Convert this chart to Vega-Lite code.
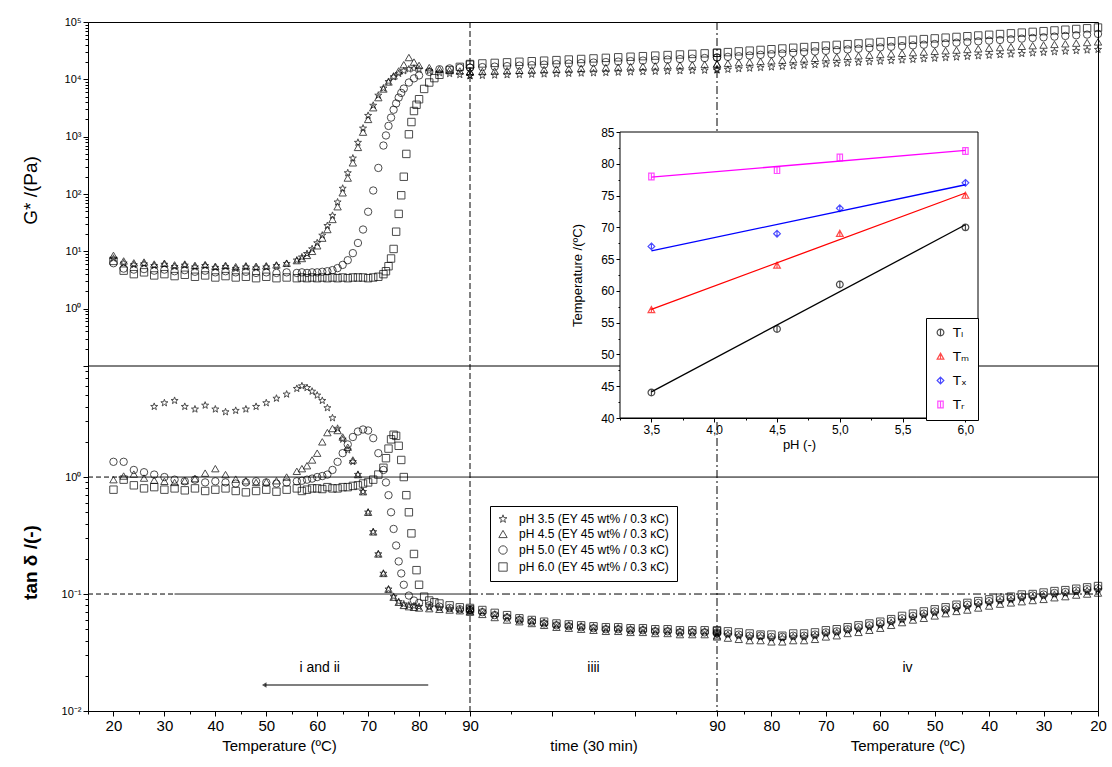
{
"$schema": "https://vega.github.io/schema/vega-lite/v6.json",
"width": 1010,
"height": 689,
"autosize": {"type": "none"},
"padding": {"left": 88, "top": 22, "right": 14, "bottom": 56},
"background": "white",
"config": {
  "view": {"stroke": "black", "strokeWidth": 1},
  "axis": {"grid": false, "domainColor": "black", "tickColor": "black", "labelColor": "black", "titleColor": "black", "labelFont": "Liberation Sans Narrow, Liberation Sans, Arial", "titleFont": "Liberation Sans Narrow, Liberation Sans, Arial", "labelOverlap": false, "labelFlush": false, "labelBound": false, "titleFontWeight": "normal", "domainWidth": 1, "tickWidth": 1}
},
"datasets": {
  "heat": [
    {"p":3.5,"x":20,"g":7.5},{"p":3.5,"x":22,"g":6.2},{"p":3.5,"x":24,"g":5.8},{"p":3.5,"x":26,"g":6.0},
    {"p":3.5,"x":28,"g":5.6,"d":4.0},{"p":3.5,"x":30,"g":5.9,"d":4.3},{"p":3.5,"x":32,"g":5.4,"d":4.5},{"p":3.5,"x":34,"g":5.7,"d":4.0},
    {"p":3.5,"x":36,"g":5.3,"d":3.8},{"p":3.5,"x":38,"g":5.6,"d":4.1},{"p":3.5,"x":40,"g":5.2,"d":3.8},{"p":3.5,"x":42,"g":5.4,"d":3.6},
    {"p":3.5,"x":44,"g":5.0,"d":3.7},{"p":3.5,"x":46,"g":5.3,"d":3.8},{"p":3.5,"x":48,"g":5.1,"d":4.0},{"p":3.5,"x":50,"g":5.3,"d":4.3},
    {"p":3.5,"x":52,"g":5.6,"d":4.7},{"p":3.5,"x":54,"g":6.1,"d":5.1},{"p":3.5,"x":56,"g":7.0,"d":5.7},{"p":3.5,"x":57,"g":7.9,"d":6.0},
    {"p":3.5,"x":58,"g":9.1,"d":5.8},{"p":3.5,"x":59,"g":11,"d":5.4},{"p":3.5,"x":60,"g":14,"d":5.0},{"p":3.5,"x":61,"g":19,"d":4.5},
    {"p":3.5,"x":62,"g":28,"d":3.9},{"p":3.5,"x":63,"g":42,"d":3.2},{"p":3.5,"x":64,"g":72,"d":2.6},{"p":3.5,"x":65,"g":125,"d":2.1},
    {"p":3.5,"x":66,"g":233,"d":1.7},{"p":3.5,"x":67,"g":420,"d":1.35},{"p":3.5,"x":68,"g":790,"d":1.05},{"p":3.5,"x":69,"g":1400,"d":0.75},
    {"p":3.5,"x":70,"g":2330,"d":0.5},{"p":3.5,"x":71,"g":3500,"d":0.34},{"p":3.5,"x":72,"g":5250,"d":0.22},{"p":3.5,"x":73,"g":7000,"d":0.15},
    {"p":3.5,"x":74,"g":9100,"d":0.11},{"p":3.5,"x":75,"g":11000,"d":0.095},{"p":3.5,"x":76,"g":12600,"d":0.086},{"p":3.5,"x":77,"g":14000,"d":0.082},
    {"p":3.5,"x":78,"g":15000,"d":0.08},{"p":3.5,"x":79,"g":15500,"d":0.079},{"p":3.5,"x":80,"g":15000,"d":0.078},{"p":3.5,"x":82,"g":14000,"d":0.077},
    {"p":3.5,"x":84,"g":13000,"d":0.076},{"p":3.5,"x":86,"g":12500,"d":0.075},{"p":3.5,"x":88,"g":12000,"d":0.074},{"p":3.5,"x":90,"g":11500,"d":0.073},

    {"p":4.5,"x":20,"g":8.5,"d":0.95},{"p":4.5,"x":22,"g":6.8,"d":1.02},{"p":4.5,"x":24,"g":6.3,"d":1.06},{"p":4.5,"x":26,"g":6.5,"d":0.98},
    {"p":4.5,"x":28,"g":6.0,"d":0.94},{"p":4.5,"x":30,"g":6.2,"d":0.92},{"p":4.5,"x":32,"g":5.8,"d":0.9},{"p":4.5,"x":34,"g":6.0,"d":0.93},
    {"p":4.5,"x":36,"g":5.7,"d":0.97},{"p":4.5,"x":38,"g":5.9,"d":1.08},{"p":4.5,"x":40,"g":5.5,"d":1.18},{"p":4.5,"x":42,"g":5.7,"d":1.05},
    {"p":4.5,"x":44,"g":5.4,"d":0.96},{"p":4.5,"x":46,"g":5.6,"d":0.93},{"p":4.5,"x":48,"g":5.5,"d":0.9},{"p":4.5,"x":50,"g":5.6,"d":0.91},
    {"p":4.5,"x":52,"g":5.8,"d":0.93},{"p":4.5,"x":54,"g":6.2,"d":1.0},{"p":4.5,"x":56,"g":6.9,"d":1.12},{"p":4.5,"x":57,"g":7.5,"d":1.18},
    {"p":4.5,"x":58,"g":8.5,"d":1.25},{"p":4.5,"x":59,"g":10,"d":1.4},{"p":4.5,"x":60,"g":12.5,"d":1.6},{"p":4.5,"x":61,"g":17,"d":2.0},
    {"p":4.5,"x":62,"g":24,"d":2.4},{"p":4.5,"x":63,"g":36,"d":2.6},{"p":4.5,"x":64,"g":60,"d":2.5},{"p":4.5,"x":65,"g":105,"d":2.2},
    {"p":4.5,"x":66,"g":190,"d":1.8},{"p":4.5,"x":67,"g":350,"d":1.4},{"p":4.5,"x":68,"g":650,"d":1.05},{"p":4.5,"x":69,"g":1200,"d":0.75},
    {"p":4.5,"x":70,"g":2000,"d":0.5},{"p":4.5,"x":71,"g":3200,"d":0.34},{"p":4.5,"x":72,"g":4800,"d":0.22},{"p":4.5,"x":73,"g":6800,"d":0.15},
    {"p":4.5,"x":74,"g":9000,"d":0.11},{"p":4.5,"x":75,"g":11500,"d":0.094},{"p":4.5,"x":76,"g":14000,"d":0.085},{"p":4.5,"x":77,"g":18000,"d":0.08},
    {"p":4.5,"x":78,"g":24000,"d":0.078},{"p":4.5,"x":79,"g":20000,"d":0.077},{"p":4.5,"x":80,"g":17500,"d":0.076},{"p":4.5,"x":82,"g":16000,"d":0.075},
    {"p":4.5,"x":84,"g":15000,"d":0.074},{"p":4.5,"x":86,"g":14500,"d":0.073},{"p":4.5,"x":88,"g":14000,"d":0.072},{"p":4.5,"x":90,"g":13500,"d":0.071},

    {"p":5,"x":20,"g":6.2,"d":1.35},{"p":5,"x":22,"g":5.0,"d":1.35},{"p":5,"x":24,"g":4.8,"d":1.15},{"p":5,"x":26,"g":4.9,"d":1.1},
    {"p":5,"x":28,"g":4.6,"d":1.05},{"p":5,"x":30,"g":4.8,"d":1.0},{"p":5,"x":32,"g":4.5,"d":0.95},{"p":5,"x":34,"g":4.7,"d":0.92},
    {"p":5,"x":36,"g":4.4,"d":0.95},{"p":5,"x":38,"g":4.6,"d":0.9},{"p":5,"x":40,"g":4.3,"d":0.92},{"p":5,"x":42,"g":4.5,"d":0.9},
    {"p":5,"x":44,"g":4.3,"d":0.88},{"p":5,"x":46,"g":4.4,"d":0.9},{"p":5,"x":48,"g":4.2,"d":0.92},{"p":5,"x":50,"g":4.3,"d":0.9},
    {"p":5,"x":52,"g":4.2,"d":0.88},{"p":5,"x":54,"g":4.3,"d":0.9},{"p":5,"x":56,"g":4.2,"d":0.92},{"p":5,"x":57,"g":4.3,"d":0.93},
    {"p":5,"x":58,"g":4.2,"d":0.95},{"p":5,"x":59,"g":4.3,"d":0.97},{"p":5,"x":60,"g":4.3,"d":1.0},{"p":5,"x":61,"g":4.4,"d":1.02},
    {"p":5,"x":62,"g":4.5,"d":1.05},{"p":5,"x":63,"g":4.7,"d":1.15},{"p":5,"x":64,"g":5.1,"d":1.35},{"p":5,"x":65,"g":5.8,"d":1.6},
    {"p":5,"x":66,"g":7.0,"d":1.9},{"p":5,"x":67,"g":9.3,"d":2.2},{"p":5,"x":68,"g":14,"d":2.45},{"p":5,"x":69,"g":24,"d":2.55},
    {"p":5,"x":70,"g":49,"d":2.5},{"p":5,"x":71,"g":115,"d":2.15},{"p":5,"x":72,"g":285,"d":1.6},{"p":5,"x":73,"g":700,"d":1.15},
    {"p":5,"x":73.5,"g":1050,"d":0.9},{"p":5,"x":74,"g":1540,"d":0.7},{"p":5,"x":74.5,"g":2150,"d":0.5},{"p":5,"x":75,"g":2950,"d":0.36},
    {"p":5,"x":75.5,"g":3800,"d":0.26},{"p":5,"x":76,"g":4800,"d":0.19},{"p":5,"x":76.5,"g":5800,"d":0.15},{"p":5,"x":77,"g":6900,"d":0.12},
    {"p":5,"x":78,"g":8800,"d":0.097},{"p":5,"x":79,"g":10400,"d":0.088},{"p":5,"x":80,"g":11700,"d":0.084},{"p":5,"x":82,"g":13500,"d":0.08},
    {"p":5,"x":84,"g":15000,"d":0.078},{"p":5,"x":86,"g":15500,"d":0.076},{"p":5,"x":88,"g":16000,"d":0.074},{"p":5,"x":90,"g":16000,"d":0.073},

    {"p":6,"x":20,"g":6.8,"d":0.78},{"p":6,"x":22,"g":4.6,"d":0.95},{"p":6,"x":24,"g":4.0,"d":0.85},{"p":6,"x":26,"g":4.3,"d":0.8},
    {"p":6,"x":28,"g":3.8,"d":0.82},{"p":6,"x":30,"g":4.0,"d":0.78},{"p":6,"x":32,"g":3.7,"d":0.8},{"p":6,"x":34,"g":3.9,"d":0.77},
    {"p":6,"x":36,"g":3.6,"d":0.8},{"p":6,"x":38,"g":3.8,"d":0.76},{"p":6,"x":40,"g":3.5,"d":0.78},{"p":6,"x":42,"g":3.7,"d":0.8},
    {"p":6,"x":44,"g":3.5,"d":0.76},{"p":6,"x":46,"g":3.6,"d":0.74},{"p":6,"x":48,"g":3.4,"d":0.76},{"p":6,"x":50,"g":3.6,"d":0.78},
    {"p":6,"x":52,"g":3.4,"d":0.75},{"p":6,"x":54,"g":3.5,"d":0.78},{"p":6,"x":56,"g":3.4,"d":0.8},{"p":6,"x":57,"g":3.5,"d":0.76},
    {"p":6,"x":58,"g":3.4,"d":0.78},{"p":6,"x":59,"g":3.5,"d":0.8},{"p":6,"x":60,"g":3.4,"d":0.8},{"p":6,"x":61,"g":3.5,"d":0.79},
    {"p":6,"x":62,"g":3.4,"d":0.82},{"p":6,"x":63,"g":3.5,"d":0.8},{"p":6,"x":64,"g":3.4,"d":0.8},{"p":6,"x":65,"g":3.5,"d":0.82},
    {"p":6,"x":66,"g":3.4,"d":0.82},{"p":6,"x":67,"g":3.5,"d":0.84},{"p":6,"x":68,"g":3.5,"d":0.85},{"p":6,"x":69,"g":3.5,"d":0.88},
    {"p":6,"x":70,"g":3.4,"d":0.9},{"p":6,"x":71,"g":3.5,"d":0.95},{"p":6,"x":72,"g":3.6,"d":1.05},{"p":6,"x":73,"g":4.0,"d":1.2},
    {"p":6,"x":73.5,"g":4.5,"d":1.45},{"p":6,"x":74,"g":5.5,"d":1.75},{"p":6,"x":74.5,"g":7.5,"d":2.1},{"p":6,"x":75,"g":11,"d":2.3},
    {"p":6,"x":75.5,"g":22,"d":2.25},{"p":6,"x":76,"g":45,"d":1.85},{"p":6,"x":76.5,"g":95,"d":1.4},{"p":6,"x":77,"g":200,"d":1.0},
    {"p":6,"x":77.5,"g":500,"d":0.7},{"p":6,"x":78,"g":1100,"d":0.5},{"p":6,"x":78.5,"g":1800,"d":0.33},{"p":6,"x":79,"g":2800,"d":0.22},
    {"p":6,"x":79.5,"g":3600,"d":0.16},{"p":6,"x":80,"g":4500,"d":0.12},{"p":6,"x":81,"g":6800,"d":0.095},{"p":6,"x":82,"g":8800,"d":0.088},
    {"p":6,"x":83,"g":10500,"d":0.085},{"p":6,"x":84,"g":12000,"d":0.083},{"p":6,"x":86,"g":14500,"d":0.08},{"p":6,"x":88,"g":16500,"d":0.077},
    {"p":6,"x":90,"g":18000,"d":0.074}
  ],
  "hold": [
    {"p":6,"x":0,"g":18500,"d":0.076},{"p":6,"x":1.5,"g":18920,"d":0.073},{"p":6,"x":3,"g":19350,"d":0.069},{"p":6,"x":4.5,"g":19790,"d":0.066},
    {"p":6,"x":6,"g":20240,"d":0.062},{"p":6,"x":7.5,"g":20700,"d":0.06},{"p":6,"x":9,"g":21170,"d":0.058},{"p":6,"x":10.5,"g":21650,"d":0.056},
    {"p":6,"x":12,"g":22140,"d":0.055},{"p":6,"x":13.5,"g":22650,"d":0.054},{"p":6,"x":15,"g":23160,"d":0.053},{"p":6,"x":16.5,"g":23690,"d":0.052},
    {"p":6,"x":18,"g":24230,"d":0.052},{"p":6,"x":19.5,"g":24780,"d":0.051},{"p":6,"x":21,"g":25340,"d":0.051},{"p":6,"x":22.5,"g":25920,"d":0.05},
    {"p":6,"x":24,"g":26510,"d":0.05},{"p":6,"x":25.5,"g":27110,"d":0.049},{"p":6,"x":27,"g":27730,"d":0.049},{"p":6,"x":28.5,"g":28360,"d":0.049},
    {"p":6,"x":30,"g":29000,"d":0.048},
    {"p":5,"x":0,"g":16000,"d":0.073},{"p":5,"x":1.5,"g":16330,"d":0.07},{"p":5,"x":3,"g":16660,"d":0.066},{"p":5,"x":4.5,"g":17000,"d":0.063},
    {"p":5,"x":6,"g":17350,"d":0.06},{"p":5,"x":7.5,"g":17710,"d":0.058},{"p":5,"x":9,"g":18070,"d":0.056},{"p":5,"x":10.5,"g":18440,"d":0.054},
    {"p":5,"x":12,"g":18820,"d":0.053},{"p":5,"x":13.5,"g":19200,"d":0.052},{"p":5,"x":15,"g":19600,"d":0.051},{"p":5,"x":16.5,"g":20000,"d":0.05},
    {"p":5,"x":18,"g":20410,"d":0.05},{"p":5,"x":19.5,"g":20830,"d":0.049},{"p":5,"x":21,"g":21250,"d":0.049},{"p":5,"x":22.5,"g":21690,"d":0.048},
    {"p":5,"x":24,"g":22130,"d":0.048},{"p":5,"x":25.5,"g":22590,"d":0.047},{"p":5,"x":27,"g":23050,"d":0.047},{"p":5,"x":28.5,"g":23520,"d":0.047},
    {"p":5,"x":30,"g":24000,"d":0.046},
    {"p":4.5,"x":0,"g":13500,"d":0.07},{"p":4.5,"x":1.5,"g":13710,"d":0.067},{"p":4.5,"x":3,"g":13930,"d":0.063},{"p":4.5,"x":4.5,"g":14150,"d":0.06},
    {"p":4.5,"x":6,"g":14380,"d":0.058},{"p":4.5,"x":7.5,"g":14610,"d":0.056},{"p":4.5,"x":9,"g":14840,"d":0.054},{"p":4.5,"x":10.5,"g":15070,"d":0.052},
    {"p":4.5,"x":12,"g":15310,"d":0.051},{"p":4.5,"x":13.5,"g":15560,"d":0.05},{"p":4.5,"x":15,"g":15800,"d":0.049},{"p":4.5,"x":16.5,"g":16050,"d":0.048},
    {"p":4.5,"x":18,"g":16310,"d":0.048},{"p":4.5,"x":19.5,"g":16570,"d":0.047},{"p":4.5,"x":21,"g":16830,"d":0.047},{"p":4.5,"x":22.5,"g":17100,"d":0.046},
    {"p":4.5,"x":24,"g":17370,"d":0.046},{"p":4.5,"x":25.5,"g":17650,"d":0.045},{"p":4.5,"x":27,"g":17930,"d":0.045},{"p":4.5,"x":28.5,"g":18210,"d":0.045},
    {"p":4.5,"x":30,"g":18500,"d":0.044},
    {"p":3.5,"x":0,"g":11500,"d":0.074},{"p":3.5,"x":1.5,"g":11630,"d":0.071},{"p":3.5,"x":3,"g":11770,"d":0.067},{"p":3.5,"x":4.5,"g":11910,"d":0.064},
    {"p":3.5,"x":6,"g":12050,"d":0.061},{"p":3.5,"x":7.5,"g":12190,"d":0.059},{"p":3.5,"x":9,"g":12330,"d":0.057},{"p":3.5,"x":10.5,"g":12470,"d":0.055},
    {"p":3.5,"x":12,"g":12620,"d":0.054},{"p":3.5,"x":13.5,"g":12770,"d":0.053},{"p":3.5,"x":15,"g":12910,"d":0.052},{"p":3.5,"x":16.5,"g":13060,"d":0.051},
    {"p":3.5,"x":18,"g":13220,"d":0.051},{"p":3.5,"x":19.5,"g":13370,"d":0.05},{"p":3.5,"x":21,"g":13530,"d":0.05},{"p":3.5,"x":22.5,"g":13680,"d":0.049},
    {"p":3.5,"x":24,"g":13840,"d":0.049},{"p":3.5,"x":25.5,"g":14000,"d":0.048},{"p":3.5,"x":27,"g":14170,"d":0.048},{"p":3.5,"x":28.5,"g":14330,"d":0.048},
    {"p":3.5,"x":30,"g":14500,"d":0.047}
  ],
  "cool": [
    {"p":6,"x":90,"g":29000,"d":0.049},{"p":6,"x":88,"g":29850,"d":0.048},{"p":6,"x":86,"g":30730,"d":0.047},{"p":6,"x":84,"g":31640,"d":0.046},
    {"p":6,"x":82,"g":32570,"d":0.045},{"p":6,"x":80,"g":33530,"d":0.045},{"p":6,"x":78,"g":34510,"d":0.044},{"p":6,"x":76,"g":35530,"d":0.046},
    {"p":6,"x":74,"g":36570,"d":0.046},{"p":6,"x":72,"g":37650,"d":0.047},{"p":6,"x":70,"g":38760,"d":0.049},{"p":6,"x":68,"g":39900,"d":0.05},
    {"p":6,"x":66,"g":41070,"d":0.052},{"p":6,"x":64,"g":42280,"d":0.054},{"p":6,"x":62,"g":43520,"d":0.056},{"p":6,"x":60,"g":44800,"d":0.058},
    {"p":6,"x":58,"g":46120,"d":0.061},{"p":6,"x":56,"g":47480,"d":0.065},{"p":6,"x":54,"g":48880,"d":0.068},{"p":6,"x":52,"g":50310,"d":0.071},
    {"p":6,"x":50,"g":51790,"d":0.074},{"p":6,"x":48,"g":53320,"d":0.077},{"p":6,"x":46,"g":54890,"d":0.081},{"p":6,"x":44,"g":56500,"d":0.084},
    {"p":6,"x":42,"g":58160,"d":0.087},{"p":6,"x":40,"g":59870,"d":0.09},{"p":6,"x":38,"g":61640,"d":0.093},{"p":6,"x":36,"g":63450,"d":0.095},
    {"p":6,"x":34,"g":65310,"d":0.099},{"p":6,"x":32,"g":67230,"d":0.1},{"p":6,"x":30,"g":69210,"d":0.103},{"p":6,"x":28,"g":71250,"d":0.106},
    {"p":6,"x":26,"g":73340,"d":0.108},{"p":6,"x":24,"g":75500,"d":0.111},{"p":6,"x":22,"g":77720,"d":0.114},{"p":6,"x":20,"g":80000,"d":0.117},
    {"p":5,"x":90,"g":24000,"d":0.047},{"p":5,"x":88,"g":24660,"d":0.046},{"p":5,"x":86,"g":25340,"d":0.045},{"p":5,"x":84,"g":26030,"d":0.044},
    {"p":5,"x":82,"g":26750,"d":0.044},{"p":5,"x":80,"g":27480,"d":0.043},{"p":5,"x":78,"g":28240,"d":0.043},{"p":5,"x":76,"g":29010,"d":0.044},
    {"p":5,"x":74,"g":29810,"d":0.044},{"p":5,"x":72,"g":30630,"d":0.045},{"p":5,"x":70,"g":31470,"d":0.047},{"p":5,"x":68,"g":32340,"d":0.048},
    {"p":5,"x":66,"g":33230,"d":0.05},{"p":5,"x":64,"g":34140,"d":0.052},{"p":5,"x":62,"g":35080,"d":0.054},{"p":5,"x":60,"g":36040,"d":0.056},
    {"p":5,"x":58,"g":37030,"d":0.059},{"p":5,"x":56,"g":38050,"d":0.062},{"p":5,"x":54,"g":39100,"d":0.065},{"p":5,"x":52,"g":40170,"d":0.068},
    {"p":5,"x":50,"g":41280,"d":0.071},{"p":5,"x":48,"g":42410,"d":0.074},{"p":5,"x":46,"g":43580,"d":0.078},{"p":5,"x":44,"g":44770,"d":0.081},
    {"p":5,"x":42,"g":46000,"d":0.084},{"p":5,"x":40,"g":47270,"d":0.087},{"p":5,"x":38,"g":48570,"d":0.09},{"p":5,"x":36,"g":49900,"d":0.092},
    {"p":5,"x":34,"g":51270,"d":0.095},{"p":5,"x":32,"g":52680,"d":0.097},{"p":5,"x":30,"g":54130,"d":0.099},{"p":5,"x":28,"g":55620,"d":0.102},
    {"p":5,"x":26,"g":57150,"d":0.104},{"p":5,"x":24,"g":58720,"d":0.107},{"p":5,"x":22,"g":60330,"d":0.11},{"p":5,"x":20,"g":62000,"d":0.112},
    {"p":4.5,"x":90,"g":18500,"d":0.043},{"p":4.5,"x":88,"g":18980,"d":0.042},{"p":4.5,"x":86,"g":19460,"d":0.041},{"p":4.5,"x":84,"g":19960,"d":0.04},
    {"p":4.5,"x":82,"g":20480,"d":0.04},{"p":4.5,"x":80,"g":21000,"d":0.039},{"p":4.5,"x":78,"g":21540,"d":0.039},{"p":4.5,"x":76,"g":22100,"d":0.04},
    {"p":4.5,"x":74,"g":22670,"d":0.04},{"p":4.5,"x":72,"g":23250,"d":0.041},{"p":4.5,"x":70,"g":23850,"d":0.043},{"p":4.5,"x":68,"g":24460,"d":0.044},
    {"p":4.5,"x":66,"g":25090,"d":0.046},{"p":4.5,"x":64,"g":25740,"d":0.047},{"p":4.5,"x":62,"g":26400,"d":0.049},{"p":4.5,"x":60,"g":27080,"d":0.051},
    {"p":4.5,"x":58,"g":27780,"d":0.054},{"p":4.5,"x":56,"g":28490,"d":0.057},{"p":4.5,"x":54,"g":29230,"d":0.06},{"p":4.5,"x":52,"g":29980,"d":0.062},
    {"p":4.5,"x":50,"g":30750,"d":0.065},{"p":4.5,"x":48,"g":31540,"d":0.068},{"p":4.5,"x":46,"g":32350,"d":0.071},{"p":4.5,"x":44,"g":33180,"d":0.073},
    {"p":4.5,"x":42,"g":34040,"d":0.076},{"p":4.5,"x":40,"g":34910,"d":0.079},{"p":4.5,"x":38,"g":35810,"d":0.082},{"p":4.5,"x":36,"g":36730,"d":0.084},
    {"p":4.5,"x":34,"g":37680,"d":0.086},{"p":4.5,"x":32,"g":38650,"d":0.088},{"p":4.5,"x":30,"g":39640,"d":0.09},{"p":4.5,"x":28,"g":40660,"d":0.093},
    {"p":4.5,"x":26,"g":41710,"d":0.095},{"p":4.5,"x":24,"g":42780,"d":0.098},{"p":4.5,"x":22,"g":43880,"d":0.1},{"p":4.5,"x":20,"g":45000,"d":0.102},
    {"p":3.5,"x":90,"g":14500,"d":0.046},{"p":3.5,"x":88,"g":14840,"d":0.045},{"p":3.5,"x":86,"g":15200,"d":0.044},{"p":3.5,"x":84,"g":15560,"d":0.043},
    {"p":3.5,"x":82,"g":15930,"d":0.043},{"p":3.5,"x":80,"g":16310,"d":0.042},{"p":3.5,"x":78,"g":16700,"d":0.042},{"p":3.5,"x":76,"g":17090,"d":0.043},
    {"p":3.5,"x":74,"g":17500,"d":0.043},{"p":3.5,"x":72,"g":17920,"d":0.044},{"p":3.5,"x":70,"g":18340,"d":0.046},{"p":3.5,"x":68,"g":18780,"d":0.047},
    {"p":3.5,"x":66,"g":19230,"d":0.049},{"p":3.5,"x":64,"g":19680,"d":0.05},{"p":3.5,"x":62,"g":20150,"d":0.052},{"p":3.5,"x":60,"g":20630,"d":0.054},
    {"p":3.5,"x":58,"g":21120,"d":0.057},{"p":3.5,"x":56,"g":21620,"d":0.06},{"p":3.5,"x":54,"g":22140,"d":0.063},{"p":3.5,"x":52,"g":22660,"d":0.066},
    {"p":3.5,"x":50,"g":23200,"d":0.069},{"p":3.5,"x":48,"g":23760,"d":0.072},{"p":3.5,"x":46,"g":24320,"d":0.075},{"p":3.5,"x":44,"g":24900,"d":0.078},
    {"p":3.5,"x":42,"g":25490,"d":0.081},{"p":3.5,"x":40,"g":26100,"d":0.084},{"p":3.5,"x":38,"g":26720,"d":0.087},{"p":3.5,"x":36,"g":27350,"d":0.089},
    {"p":3.5,"x":34,"g":28000,"d":0.092},{"p":3.5,"x":32,"g":28670,"d":0.094},{"p":3.5,"x":30,"g":29350,"d":0.096},{"p":3.5,"x":28,"g":30050,"d":0.099},
    {"p":3.5,"x":26,"g":30760,"d":0.101},{"p":3.5,"x":24,"g":31490,"d":0.104},{"p":3.5,"x":22,"g":32240,"d":0.107},{"p":3.5,"x":20,"g":33000,"d":0.109}
  ],
  "refs": [
    {"s":"h","y":1,"a":15,"b":21,"k":"dash"},{"s":"h","y":1,"a":21,"b":90,"k":"solid"},
    {"s":"h","y":0.1,"a":15,"b":32,"k":"dash"},{"s":"h","y":0.1,"a":32,"b":90,"k":"solid"},
    {"s":"t","y":1,"a":0,"b":30,"k":"solid"},{"s":"t","y":0.1,"a":0,"b":30,"k":"dashdot"},
    {"s":"c","y":1,"a":90,"b":20,"k":"solid"},{"s":"c","y":0.1,"a":90,"b":20,"k":"dashdot"}
  ],
  "inset": [
    {"k":"Tₗ","x":3.5,"y":44},{"k":"Tₗ","x":4.5,"y":54},{"k":"Tₗ","x":5.0,"y":61},{"k":"Tₗ","x":6.0,"y":70},
    {"k":"Tₘ","x":3.5,"y":57},{"k":"Tₘ","x":4.5,"y":64},{"k":"Tₘ","x":5.0,"y":69},{"k":"Tₘ","x":6.0,"y":75},
    {"k":"Tₓ","x":3.5,"y":67},{"k":"Tₓ","x":4.5,"y":69},{"k":"Tₓ","x":5.0,"y":73},{"k":"Tₓ","x":6.0,"y":77},
    {"k":"Tᵣ","x":3.5,"y":78},{"k":"Tᵣ","x":4.5,"y":79},{"k":"Tᵣ","x":5.0,"y":81},{"k":"Tᵣ","x":6.0,"y":82}
  ],
  "fits": [
    {"k":"Tₗ","x":3.5,"y":44.1},{"k":"Tₗ","x":6.0,"y":70.4},
    {"k":"Tₘ","x":3.5,"y":57.1},{"k":"Tₘ","x":6.0,"y":75.4},
    {"k":"Tₓ","x":3.5,"y":66.3},{"k":"Tₓ","x":6.0,"y":76.7},
    {"k":"Tᵣ","x":3.5,"y":77.9},{"k":"Tᵣ","x":6.0,"y":82.1}
  ]
},
"resolve": {"scale": {"x": "independent", "y": "independent", "shape": "independent", "color": "independent", "strokeDash": "independent"}},
"layer": [
  {"data": {"name": "refs"}, "transform": [{"filter": "datum.s=='h'"}],
   "mark": {"type": "rule", "color": "black", "strokeWidth": 1},
   "encoding": {
     "x": {"field": "a", "type": "quantitative", "scale": {"domain": [15, 90], "range": [0, 382], "nice": false}, "axis": null},
     "x2": {"field": "b"},
     "y": {"field": "y", "type": "quantitative", "scale": {"type": "log", "domain": [0.01, 8.9], "range": [689, 344], "nice": false}, "axis": null},
     "strokeDash": {"field": "k", "type": "nominal", "scale": {"domain": ["solid", "dash", "dashdot"], "range": [[1, 0], [5, 3], [8, 3, 2, 3]]}, "legend": null}}},
  {"data": {"name": "refs"}, "transform": [{"filter": "datum.s=='t'"}],
   "mark": {"type": "rule", "color": "black", "strokeWidth": 1},
   "encoding": {
     "x": {"field": "a", "type": "quantitative", "scale": {"domain": [0, 30], "range": [382, 629], "nice": false}, "axis": null},
     "x2": {"field": "b"},
     "y": {"field": "y", "type": "quantitative", "scale": {"type": "log", "domain": [0.01, 8.9], "range": [689, 344], "nice": false}, "axis": null},
     "strokeDash": {"field": "k", "type": "nominal", "scale": {"domain": ["solid", "dash", "dashdot"], "range": [[1, 0], [5, 3], [8, 3, 2, 3]]}, "legend": null}}},
  {"data": {"name": "refs"}, "transform": [{"filter": "datum.s=='c'"}],
   "mark": {"type": "rule", "color": "black", "strokeWidth": 1},
   "encoding": {
     "x": {"field": "a", "type": "quantitative", "scale": {"domain": [90, 20], "range": [629, 1010], "nice": false}, "axis": null},
     "x2": {"field": "b"},
     "y": {"field": "y", "type": "quantitative", "scale": {"type": "log", "domain": [0.01, 8.9], "range": [689, 344], "nice": false}, "axis": null},
     "strokeDash": {"field": "k", "type": "nominal", "scale": {"domain": ["solid", "dash", "dashdot"], "range": [[1, 0], [5, 3], [8, 3, 2, 3]]}, "legend": null}}},
  {"data": {"values": [{}]},
   "mark": {"type": "rule", "color": "black", "strokeWidth": 1, "strokeDash": [6, 3]},
   "encoding": {"x": {"datum": 90, "type": "quantitative", "scale": {"domain": [15, 90], "range": [0, 382], "nice": false}, "axis": null}}},
  {"data": {"values": [{}]},
   "mark": {"type": "rule", "color": "black", "strokeWidth": 1, "strokeDash": [8, 3, 2, 3]},
   "encoding": {"x": {"datum": 90, "type": "quantitative", "scale": {"domain": [90, 20], "range": [629, 1010], "nice": false}, "axis": null}}},
  {"data": {"values": [{}]},
   "mark": {"type": "rule", "color": "black", "strokeWidth": 1},
   "encoding": {"y": {"datum": 0.1, "type": "quantitative", "scale": {"type": "log", "domain": [0.1, 100000], "range": [344, 0], "nice": false}, "axis": null}}},

  {"data": {"name": "heat"},
   "mark": {"type": "point", "filled": false, "color": "black", "size": 55, "strokeWidth": 1},
   "encoding": {
     "x": {"field": "x", "type": "quantitative", "scale": {"domain": [15, 90], "range": [0, 382], "nice": false}, "axis": null},
     "y": {"field": "g", "type": "quantitative", "scale": {"type": "log", "domain": [0.1, 100000], "range": [344, 0], "nice": false},
           "axis": {"orient": "left", "values": [0.1,0.2,0.3,0.4,0.5,0.6,0.7,0.8,0.9,1,2,3,4,5,6,7,8,9,10,20,30,40,50,60,70,80,90,100,200,300,400,500,600,700,800,900,1000,2000,3000,4000,5000,6000,7000,8000,9000,10000,20000,30000,40000,50000,60000,70000,80000,90000,100000],
             "labelExpr": "datum.value==100000?'10⁵':datum.value==10000?'10⁴':datum.value==1000?'10³':datum.value==100?'10²':datum.value==10?'10¹':datum.value==1?'10⁰':''",
             "tickSize": {"condition": {"test": "indexof([0.1,1,10,100,1000,10000,100000],datum.value)>=0", "value": 5}, "value": 3},
             "labelFontSize": 11, "labelPadding": 2,
             "title": "G* /(Pa)", "titleX": -58, "titleY": 168, "titleAngle": -90, "titleAlign": "center", "titleBaseline": "middle",
             "titleFont": "Liberation Sans, Arial", "titleFontSize": 19}},
     "shape": {"field": "p", "type": "nominal", "scale": {"domain": [3.5, 4.5, 5, 6], "range": ["M0,-1L0.235,-0.324L0.951,-0.309L0.38,0.124L0.588,0.809L0,0.4L-0.588,0.809L-0.38,0.124L-0.951,-0.309L-0.235,-0.324Z", "triangle-up", "circle", "square"]}, "legend": null}}},
  {"data": {"name": "hold"},
   "mark": {"type": "point", "filled": false, "color": "black", "size": 55, "strokeWidth": 1},
   "encoding": {
     "x": {"field": "x", "type": "quantitative", "scale": {"domain": [0, 30], "range": [382, 629], "nice": false}, "axis": null},
     "y": {"field": "g", "type": "quantitative", "scale": {"type": "log", "domain": [0.1, 100000], "range": [344, 0], "nice": false}, "axis": null},
     "shape": {"field": "p", "type": "nominal", "scale": {"domain": [3.5, 4.5, 5, 6], "range": ["M0,-1L0.235,-0.324L0.951,-0.309L0.38,0.124L0.588,0.809L0,0.4L-0.588,0.809L-0.38,0.124L-0.951,-0.309L-0.235,-0.324Z", "triangle-up", "circle", "square"]}, "legend": null}}},
  {"data": {"name": "cool"},
   "mark": {"type": "point", "filled": false, "color": "black", "size": 55, "strokeWidth": 1},
   "encoding": {
     "x": {"field": "x", "type": "quantitative", "scale": {"domain": [90, 20], "range": [629, 1010], "nice": false}, "axis": null},
     "y": {"field": "g", "type": "quantitative", "scale": {"type": "log", "domain": [0.1, 100000], "range": [344, 0], "nice": false}, "axis": null},
     "shape": {"field": "p", "type": "nominal", "scale": {"domain": [3.5, 4.5, 5, 6], "range": ["M0,-1L0.235,-0.324L0.951,-0.309L0.38,0.124L0.588,0.809L0,0.4L-0.588,0.809L-0.38,0.124L-0.951,-0.309L-0.235,-0.324Z", "triangle-up", "circle", "square"]}, "legend": null}}},

  {"data": {"name": "heat"},
   "mark": {"type": "point", "filled": false, "color": "black", "size": 55, "strokeWidth": 1},
   "encoding": {
     "x": {"field": "x", "type": "quantitative", "scale": {"domain": [15, 90], "range": [0, 382], "nice": false},
           "axis": {"orient": "bottom", "values": [15,20,25,30,35,40,45,50,55,60,65,70,75,80,85,90],
             "labelExpr": "datum.value % 10 == 0 ? datum.label : ''",
             "tickSize": {"condition": {"test": "datum.value % 10 == 0", "value": 5}, "value": 3},
             "labelFontSize": 15, "labelPadding": 2, "title": "Temperature (ºC)", "titleFontSize": 15, "titlePadding": 5}},
     "y": {"field": "d", "type": "quantitative", "scale": {"type": "log", "domain": [0.01, 8.9], "range": [689, 344], "nice": false},
           "axis": {"orient": "left", "values": [0.01,0.02,0.03,0.04,0.05,0.06,0.07,0.08,0.09,0.1,0.2,0.3,0.4,0.5,0.6,0.7,0.8,0.9,1,2,3,4,5,6,7,8],
             "labelExpr": "datum.value==1?'10⁰':datum.value==0.1?'10⁻¹':datum.value==0.01?'10⁻²':''",
             "tickSize": {"condition": {"test": "indexof([0.01,0.1,1],datum.value)>=0", "value": 5}, "value": 3},
             "labelFontSize": 11, "labelPadding": 2,
             "title": "tan δ /(-)", "titleX": -58, "titleY": 540, "titleAngle": -90, "titleAlign": "center", "titleBaseline": "middle",
             "titleFont": "Liberation Sans, Arial", "titleFontSize": 19, "titleFontWeight": "bold"}},
     "shape": {"field": "p", "type": "nominal", "scale": {"domain": [3.5, 4.5, 5, 6], "range": ["M0,-1L0.235,-0.324L0.951,-0.309L0.38,0.124L0.588,0.809L0,0.4L-0.588,0.809L-0.38,0.124L-0.951,-0.309L-0.235,-0.324Z", "triangle-up", "circle", "square"]},
       "legend": {"orient": "none", "legendX": 402, "legendY": 484, "title": null, "strokeColor": "black", "fillColor": "white",
         "padding": 7, "rowPadding": 3, "labelFont": "Liberation Sans, Arial", "labelFontSize": 12, "labelColor": "black",
         "symbolSize": 70, "symbolStrokeColor": "black", "symbolStrokeWidth": 1, "symbolFillColor": "white", "labelOffset": 10,
         "labelExpr": "'pH ' + format(datum.value, '.1f') + ' (EY 45 wt% / 0.3 κC)'"}}}},
  {"data": {"name": "hold"},
   "mark": {"type": "point", "filled": false, "color": "black", "size": 55, "strokeWidth": 1},
   "encoding": {
     "x": {"field": "x", "type": "quantitative", "scale": {"domain": [0, 30], "range": [382, 629], "nice": false},
           "axis": {"orient": "bottom", "values": [5, 10, 15, 20, 25], "labels": false,
             "tickSize": {"condition": {"test": "datum.value % 10 == 0", "value": 5}, "value": 3},
             "title": "time (30 min)", "titleFontSize": 15, "titlePadding": 22}},
     "y": {"field": "d", "type": "quantitative", "scale": {"type": "log", "domain": [0.01, 8.9], "range": [689, 344], "nice": false}, "axis": null},
     "shape": {"field": "p", "type": "nominal", "scale": {"domain": [3.5, 4.5, 5, 6], "range": ["M0,-1L0.235,-0.324L0.951,-0.309L0.38,0.124L0.588,0.809L0,0.4L-0.588,0.809L-0.38,0.124L-0.951,-0.309L-0.235,-0.324Z", "triangle-up", "circle", "square"]}, "legend": null}}},
  {"data": {"name": "cool"},
   "mark": {"type": "point", "filled": false, "color": "black", "size": 55, "strokeWidth": 1},
   "encoding": {
     "x": {"field": "x", "type": "quantitative", "scale": {"domain": [90, 20], "range": [629, 1010], "nice": false},
           "axis": {"orient": "bottom", "values": [90,85,80,75,70,65,60,55,50,45,40,35,30,25,20],
             "labelExpr": "datum.value % 10 == 0 ? datum.label : ''",
             "tickSize": {"condition": {"test": "datum.value % 10 == 0", "value": 5}, "value": 3},
             "labelFontSize": 15, "labelPadding": 2, "title": "Temperature (ºC)", "titleFontSize": 15, "titlePadding": 5}},
     "y": {"field": "d", "type": "quantitative", "scale": {"type": "log", "domain": [0.01, 8.9], "range": [689, 344], "nice": false}, "axis": null},
     "shape": {"field": "p", "type": "nominal", "scale": {"domain": [3.5, 4.5, 5, 6], "range": ["M0,-1L0.235,-0.324L0.951,-0.309L0.38,0.124L0.588,0.809L0,0.4L-0.588,0.809L-0.38,0.124L-0.951,-0.309L-0.235,-0.324Z", "triangle-up", "circle", "square"]}, "legend": null}}},

  {"data": {"values": [{}]},
   "mark": {"type": "text", "text": "i  and  ii", "font": "Liberation Sans Narrow, Liberation Sans, Arial", "fontSize": 14, "color": "black"},
   "encoding": {
     "x": {"datum": 60.5, "type": "quantitative", "scale": {"domain": [15, 90], "range": [0, 382], "nice": false}, "axis": null},
     "y": {"datum": 0.0233, "type": "quantitative", "scale": {"type": "log", "domain": [0.01, 8.9], "range": [689, 344], "nice": false}, "axis": null}}},
  {"data": {"values": [{}]},
   "mark": {"type": "rule", "color": "black", "strokeWidth": 1.2},
   "encoding": {
     "x": {"datum": 49.8, "type": "quantitative", "scale": {"domain": [15, 90], "range": [0, 382], "nice": false}, "axis": null},
     "x2": {"datum": 81.8},
     "y": {"datum": 0.01668, "type": "quantitative", "scale": {"type": "log", "domain": [0.01, 8.9], "range": [689, 344], "nice": false}, "axis": null}}},
  {"data": {"values": [{}]},
   "mark": {"type": "point", "shape": "triangle-left", "filled": true, "color": "black", "size": 28},
   "encoding": {
     "x": {"datum": 49.6, "type": "quantitative", "scale": {"domain": [15, 90], "range": [0, 382], "nice": false}, "axis": null},
     "y": {"datum": 0.01668, "type": "quantitative", "scale": {"type": "log", "domain": [0.01, 8.9], "range": [689, 344], "nice": false}, "axis": null}}},
  {"data": {"values": [{}]},
   "mark": {"type": "text", "text": "iiii", "font": "Liberation Sans Narrow, Liberation Sans, Arial", "fontSize": 14, "color": "black"},
   "encoding": {
     "x": {"datum": 15, "type": "quantitative", "scale": {"domain": [0, 30], "range": [382, 629], "nice": false}, "axis": null},
     "y": {"datum": 0.0233, "type": "quantitative", "scale": {"type": "log", "domain": [0.01, 8.9], "range": [689, 344], "nice": false}, "axis": null}}},
  {"data": {"values": [{}]},
   "mark": {"type": "text", "text": "iv", "font": "Liberation Sans Narrow, Liberation Sans, Arial", "fontSize": 14, "color": "black"},
   "encoding": {
     "x": {"datum": 55, "type": "quantitative", "scale": {"domain": [90, 20], "range": [629, 1010], "nice": false}, "axis": null},
     "y": {"datum": 0.0233, "type": "quantitative", "scale": {"type": "log", "domain": [0.01, 8.9], "range": [689, 344], "nice": false}, "axis": null}}},

  {"data": {"values": [{}]},
   "mark": {"type": "rect", "fill": "white", "stroke": "black", "strokeWidth": 1},
   "encoding": {
     "x": {"datum": 3.25, "type": "quantitative", "scale": {"domain": [3.25, 6.1], "range": [532, 890], "nice": false}, "axis": null},
     "x2": {"datum": 6.1},
     "y": {"datum": 40, "type": "quantitative", "scale": {"domain": [40, 85], "range": [396, 110], "nice": false}, "axis": null},
     "y2": {"datum": 85}}},
  {"data": {"name": "fits"},
   "mark": {"type": "line", "strokeWidth": 1.3},
   "encoding": {
     "x": {"field": "x", "type": "quantitative", "scale": {"domain": [3.25, 6.1], "range": [532, 890], "nice": false}, "axis": null},
     "y": {"field": "y", "type": "quantitative", "scale": {"domain": [40, 85], "range": [396, 110], "nice": false}, "axis": null},
     "color": {"field": "k", "type": "nominal", "scale": {"domain": ["Tₗ", "Tₘ", "Tₓ", "Tᵣ"], "range": ["black", "red", "blue", "magenta"]}, "legend": null}}},
  {"data": {"name": "inset"},
   "mark": {"type": "point", "filled": false, "size": 45, "strokeWidth": 1.2},
   "encoding": {
     "x": {"field": "x", "type": "quantitative", "scale": {"domain": [3.25, 6.1], "range": [532, 890], "nice": false},
           "axis": {"orient": "bottom", "offset": -293, "values": [3.25,3.5,3.75,4,4.25,4.5,4.75,5,5.25,5.5,5.75,6],
             "labelExpr": "(datum.value*4)%2==0 ? replace(format(datum.value,'.1f'),'.',',') : ''",
             "tickSize": {"condition": {"test": "(datum.value*4)%2==0", "value": 4}, "value": 2},
             "labelFontSize": 12, "labelPadding": 2, "title": "pH (-)", "titleFontSize": 13, "titlePadding": 3}},
     "y": {"field": "y", "type": "quantitative", "scale": {"domain": [40, 85], "range": [396, 110], "nice": false},
           "axis": {"orient": "left", "offset": -532, "values": [40,42.5,45,47.5,50,52.5,55,57.5,60,62.5,65,67.5,70,72.5,75,77.5,80,82.5,85],
             "labelExpr": "datum.value % 5 == 0 ? datum.label : ''",
             "tickSize": {"condition": {"test": "datum.value % 5 == 0", "value": 4}, "value": 2},
             "labelFontSize": 12, "labelPadding": 2, "title": "Temperature /(ºC)", "titleFontSize": 13, "titleX": -43, "titleY": 253,
             "titleAngle": -90, "titleAlign": "center", "titleBaseline": "middle"}},
     "color": {"field": "k", "type": "nominal", "scale": {"domain": ["Tₗ", "Tₘ", "Tₓ", "Tᵣ"], "range": ["black", "red", "blue", "magenta"]},
       "legend": {"orient": "none", "legendX": 838, "legendY": 296, "title": null, "strokeColor": "black", "fillColor": "white",
         "padding": 8, "rowPadding": 10, "labelFont": "DejaVu Sans", "labelFontSize": 13, "labelColor": "black", "symbolSize": 45, "symbolStrokeWidth": 1.2, "labelOffset": 6}},
     "shape": {"field": "k", "type": "nominal", "scale": {"domain": ["Tₗ", "Tₘ", "Tₓ", "Tᵣ"],
       "range": ["M0,-1A1,1,0,1,1,0,1A1,1,0,1,1,0,-1ZM0,-1L0,1", "M0,-1L1,0.8L-1,0.8ZM0,-1L0,0.8", "M0,-1L1,0L0,1L-1,0ZM0,-1L0,1", "M-0.8,-1L0.8,-1L0.8,1L-0.8,1ZM0,-1L0,1"]},
       "legend": {"orient": "none", "legendX": 838, "legendY": 296, "title": null, "strokeColor": "black", "fillColor": "white",
         "padding": 8, "rowPadding": 10, "labelFont": "DejaVu Sans", "labelFontSize": 13, "labelColor": "black", "symbolSize": 45, "symbolStrokeWidth": 1.2, "labelOffset": 6}}}}
]
}
